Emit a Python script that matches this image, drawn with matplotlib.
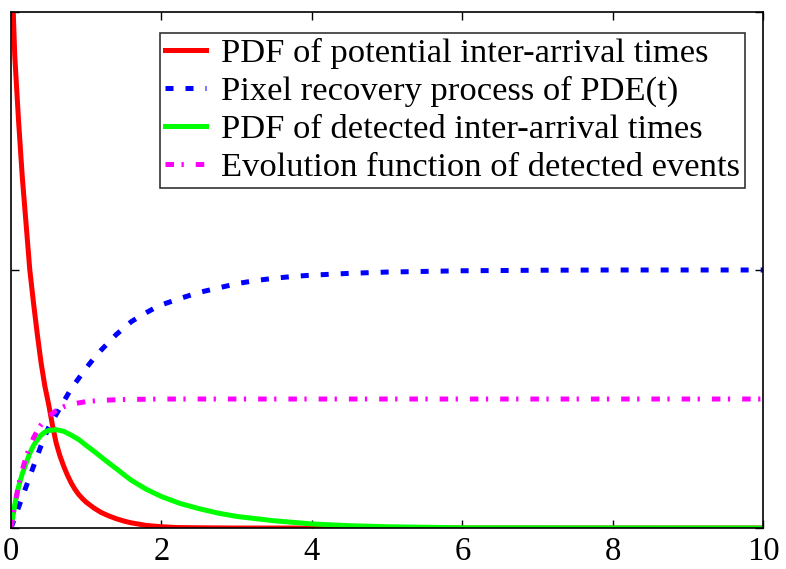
import numpy as np
import matplotlib
matplotlib.use("Agg")
import matplotlib.pyplot as plt

# values
t_red = [0, 0.03, 0.05, 0.1, 0.15, 0.2, 0.25, 0.3, 0.35, 0.4, 0.45, 0.5, 0.55, 0.6, 0.65, 0.7, 0.75,
         0.8, 0.85, 0.9, 0.95, 1.0, 1.1, 1.2, 1.3, 1.4, 1.5, 1.6, 1.8, 2.0, 2.2, 2.5, 3.0, 4.0, 6.0, 10.0]
y_red = [2.2, 2.0, 1.83, 1.58, 1.36, 1.18, 1.0, 0.87, 0.75, 0.64, 0.55, 0.48, 0.4, 0.33, 0.28, 0.24, 0.205,
         0.175, 0.15, 0.13, 0.114, 0.1, 0.078, 0.06, 0.047, 0.036, 0.027, 0.02, 0.01, 0.005, 0.002, 0.001, 0, 0, 0, 0]

t_blue = [0, 0.1, 0.2, 0.3, 0.4, 0.5, 0.6, 0.7, 0.8, 0.9, 1.0, 1.1, 1.2, 1.3, 1.4, 1.5, 1.6, 1.7, 1.8, 1.9, 2.0,
          2.25, 2.5, 2.75, 3.0, 3.25, 3.5, 3.75, 4.0, 4.5, 5.0, 6.0, 7.0, 8.0, 10.0]
y_blue = [0, 0.08, 0.16, 0.24, 0.32, 0.39, 0.44, 0.49, 0.54, 0.58, 0.62, 0.657, 0.69, 0.72, 0.75, 0.775, 0.80,
          0.818, 0.835, 0.851, 0.865, 0.89, 0.913, 0.93, 0.947, 0.959, 0.968, 0.975, 0.98, 0.987, 0.992,
          0.997, 0.999, 1.0, 1.0]

t_green = [0, 0.05, 0.1, 0.15, 0.2, 0.25, 0.3, 0.35, 0.4, 0.45, 0.5, 0.6, 0.7, 0.8, 0.9, 1.0, 1.1, 1.2,
           1.3, 1.4, 1.5, 1.6, 1.8, 2.0, 2.25, 2.5, 2.75, 3.0, 3.5, 4.0, 4.5, 5.0, 6.0, 10.0]
y_green = [0, 0.09, 0.16, 0.21, 0.25, 0.29, 0.32, 0.342, 0.36, 0.372, 0.378, 0.381, 0.375, 0.36, 0.343, 0.32,
           0.298, 0.275, 0.252, 0.23, 0.207, 0.185, 0.15, 0.122, 0.095, 0.075, 0.058, 0.045, 0.028, 0.016,
           0.009, 0.005, 0.001, 0]

t_mag = [0, 0.05, 0.1, 0.15, 0.2, 0.25, 0.3, 0.35, 0.4, 0.5, 0.6, 0.7, 0.8, 1.0, 1.2, 1.5, 2.0, 3.0, 10.0]
y_mag = [0, 0.09, 0.165, 0.225, 0.275, 0.315, 0.35, 0.377, 0.4, 0.432, 0.455, 0.47, 0.48, 0.49, 0.495,
         0.498, 0.5, 0.5, 0.5]

labels = ["PDF of potential inter-arrival times",
          "Pixel recovery process of PDE(t)",
          "PDF of detected inter-arrival times",
          "Evolution function of detected events"]

plt.rcParams['font.family'] = ['Liberation Serif', 'DejaVu Serif']

fig = plt.figure(figsize=(7.86, 5.69), dpi=100)
ax = fig.add_axes([0.014, 0.072, 0.957, 0.907])

lw = 3.6
ax.plot(t_red, y_red, color='#ff0000', lw=lw, label=labels[0])
ax.plot(t_blue, y_blue, color='#0000ff', lw=lw, dashes=(1.6, 2.4), dash_capstyle='butt', label=labels[1])
ax.plot(t_green, y_green, color='#00ff00', lw=lw, label=labels[2])
ax.plot(t_mag, y_mag, color='#ff00ff', lw=lw, dashes=(1.7, 1.5, 0.45, 2.4), dash_capstyle='butt', label=labels[3])

ax.set_xlim(0, 10)
ax.set_ylim(0, 2)
ax.set_xticks([0, 2, 4, 6, 8, 10])
ax.set_yticks([0, 1, 2])
ax.set_yticklabels([])
ax.tick_params(direction='in', length=6, width=1, top=True, right=True, labelsize=23.5, pad=6)
for s in ax.spines.values():
    s.set_linewidth(1.2)

leg = ax.legend(loc='upper right', bbox_to_anchor=(0.976, 0.96), fontsize=24.8, frameon=True, fancybox=False,
                edgecolor='black', handlelength=1.2, handletextpad=0.43, borderpad=0.15, labelspacing=0.2,
                borderaxespad=0)
leg.get_frame().set_linewidth(1.2)

fig.savefig("out.png", dpi=100)
